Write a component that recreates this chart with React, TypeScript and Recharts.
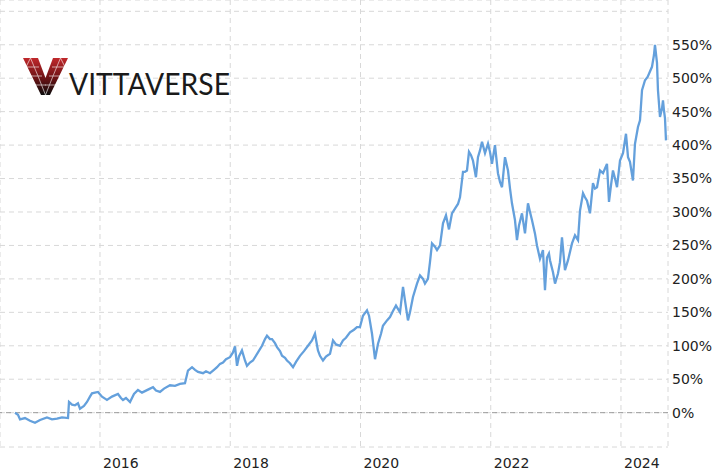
import React from 'react';
import {
  LineChart,
  Line,
  XAxis,
  YAxis,
  CartesianGrid,
  ReferenceLine,
} from 'recharts';

// time as decimal years, cumulative return in %
const years = [
  2014.695, 2014.741, 2014.772, 2014.848, 2014.925, 2015.002, 2015.079, 2015.186, 2015.263, 2015.34,
  2015.417, 2015.509, 2015.524, 2015.57, 2015.616, 2015.662, 2015.693, 2015.754, 2015.8, 2015.846,
  2015.877, 2015.923, 2015.969, 2016.031, 2016.077, 2016.107, 2016.184, 2016.276, 2016.322, 2016.353,
  2016.399, 2016.461, 2016.522, 2016.583, 2016.645, 2016.706, 2016.768, 2016.814, 2016.86, 2016.921,
  2016.983, 2017.075, 2017.152, 2017.228, 2017.305, 2017.351, 2017.413, 2017.459, 2017.505, 2017.582,
  2017.628, 2017.689, 2017.75, 2017.797, 2017.843, 2017.889, 2017.935, 2017.996, 2018.042, 2018.073,
  2018.104, 2018.134, 2018.18, 2018.226, 2018.257, 2018.303, 2018.349, 2018.426, 2018.488, 2018.534,
  2018.564, 2018.61, 2018.641, 2018.687, 2018.718, 2018.764, 2018.795, 2018.841, 2018.871, 2018.917,
  2018.964, 2019.01, 2019.071, 2019.132, 2019.194, 2019.255, 2019.301, 2019.347, 2019.378, 2019.424,
  2019.47, 2019.532, 2019.578, 2019.624, 2019.685, 2019.731, 2019.777, 2019.839, 2019.9, 2019.946,
  2019.992, 2020.038, 2020.1, 2020.131, 2020.177, 2020.223, 2020.269, 2020.315, 2020.345, 2020.407,
  2020.453, 2020.499, 2020.545, 2020.607, 2020.653, 2020.683, 2020.729, 2020.76, 2020.806, 2020.868,
  2020.914, 2020.96, 2020.99, 2021.036, 2021.067, 2021.098, 2021.144, 2021.175, 2021.221, 2021.267,
  2021.313, 2021.359, 2021.405, 2021.451, 2021.497, 2021.528, 2021.574, 2021.604, 2021.635, 2021.666,
  2021.697, 2021.727, 2021.773, 2021.804, 2021.835, 2021.866, 2021.912, 2021.958, 2021.988, 2022.019,
  2022.065, 2022.111, 2022.142, 2022.173, 2022.219, 2022.265, 2022.296, 2022.326, 2022.372, 2022.403,
  2022.434, 2022.48, 2022.526, 2022.572, 2022.603, 2022.633, 2022.679, 2022.71, 2022.756, 2022.802,
  2022.833, 2022.864, 2022.894, 2022.91, 2022.956, 2022.987, 2023.033, 2023.063, 2023.094, 2023.14,
  2023.187, 2023.248, 2023.294, 2023.34, 2023.371, 2023.417, 2023.447, 2023.478, 2023.524, 2023.57,
  2023.601, 2023.632, 2023.678, 2023.724, 2023.755, 2023.785, 2023.816, 2023.847, 2023.877, 2023.908,
  2023.939, 2023.985, 2024.031, 2024.077, 2024.108, 2024.138, 2024.184, 2024.215, 2024.261, 2024.292,
  2024.323, 2024.369, 2024.409, 2024.445, 2024.476, 2024.507, 2024.522, 2024.553, 2024.568, 2024.599,
  2024.63, 2024.645, 2024.66, 2024.676, 2024.691,
];

const returns = [
  0, -3, -10, -8, -12, -15, -11, -7, -10, -9,
  -7, -8, 16, 12, 11, 14, 6, 10, 16, 24,
  29, 30, 31, 24, 21, 19, 24, 28, 22, 19,
  22, 16, 28, 34, 30, 33, 36, 38, 33, 31,
  36, 41, 40, 43, 44, 63, 68, 64, 61, 59,
  62, 59, 64, 68, 73, 75, 80, 83, 90, 99,
  70, 84, 93, 78, 70, 75, 78, 90, 100, 110,
  115, 110, 110, 104, 98, 92, 85, 82, 78, 74,
  68, 76, 85, 92, 100, 108, 118, 93, 85, 78,
  84, 88, 108, 102, 100, 108, 112, 120, 124, 128,
  128, 145, 153, 145, 118, 80, 103, 118, 130, 138,
  143, 152, 160, 150, 188, 168, 138, 150, 173, 193,
  205, 200, 193, 200, 225, 253, 248, 243, 250, 283,
  295, 274, 298, 305, 312, 322, 360, 360, 362, 390,
  385, 377, 352, 382, 392, 405, 388, 402, 390, 372,
  400, 358, 345, 337, 382, 362, 335, 313, 288, 258,
  280, 298, 268, 313, 300, 288, 268, 250, 230, 243,
  183, 232, 238, 228, 210, 193, 208, 225, 262, 213,
  228, 253, 265, 258, 302, 328, 322, 317, 298, 343,
  335, 337, 362, 358, 365, 372, 315, 340, 362, 350,
  337, 377, 388, 417, 382, 375, 347, 402, 427, 437,
  482, 497, 502, 510, 517, 535, 550, 523, 482, 442,
  455, 467, 452, 440, 407,
];

const yearTicks = [2016, 2018, 2020, 2022, 2024];
const pctTicks = [0, 50, 100, 150, 200, 250, 300, 350, 400, 450, 500, 550, 600];

const data = years.map((t, i) => ({ t, v: returns[i] }));

const FONT = '"DejaVu Sans", Verdana, sans-serif';

const XTick = ({ x, y, payload }: any) => (
  <text x={x + 3} y={y + 21} fill="#222" fontSize={14} fontFamily={FONT} textAnchor="start">
    {payload.value}
  </text>
);

const YTick = ({ x, y, payload }: any) => {
  if (payload.value === 600) return <g />;
  return (
    <text x={x + 4} y={y} dy="0.35em" fill="#222" fontSize={14} fontFamily={FONT} textAnchor="start">
      {payload.value}%
    </text>
  );
};

function Logo() {
  return (
    <svg
      width={240}
      height={60}
      style={{ position: 'absolute', left: 0, top: 50 }}
    >
      <defs>
        <linearGradient id="vgrad" x1="0" y1="0" x2="0" y2="1">
          <stop offset="0%" stopColor="#c0282b" />
          <stop offset="55%" stopColor="#6a1214" />
          <stop offset="100%" stopColor="#0d0d0d" />
        </linearGradient>
      </defs>
      <polygon
        points="23,8 38,8 45.5,28 53,8 68,8 50,45 41,45"
        fill="url(#vgrad)"
      />
      <g stroke="#fff" strokeWidth={0.8} opacity={0.75}>
        <line x1={30.5} y1={8} x2={38} y2={26} />
        <line x1={30.5} y1={8} x2={26} y2={17} />
        <line x1={26} y1={17} x2={39} y2={17} />
        <line x1={30} y1={26} x2={42} y2={26} />
        <line x1={34} y1={35} x2={46} y2={35} />
        <line x1={60.5} y1={8} x2={53} y2={26} />
        <line x1={60.5} y1={8} x2={65} y2={17} />
        <line x1={52} y1={17} x2={65} y2={17} />
        <line x1={49} y1={26} x2={61} y2={26} />
        <line x1={45} y1={35} x2={57} y2={35} />
        <line x1={38} y1={26} x2={45.5} y2={45} />
        <line x1={53} y1={26} x2={45.5} y2={45} />
      </g>
      <text
        x={69}
        y={45}
        fontFamily="Lato, 'Open Sans', sans-serif"
        fontSize={30}
        fill="#1a1a1a"
        textLength={161}
        lengthAdjust="spacingAndGlyphs"
      >
        VITTAVERSE
      </text>
    </svg>
  );
}

export default function App() {
  return (
    <div style={{ position: 'absolute', left: 0, top: 0, width: 719, height: 474, background: '#fff' }}>
      <LineChart width={719} height={474} data={data} margin={{ top: 0, right: 0, bottom: 0, left: 0 }}>
        <CartesianGrid stroke="#d8d8d8" strokeDasharray="5 4" />
        <XAxis
          dataKey="t"
          type="number"
          domain={[2014.4645, 2024.722]}
          ticks={yearTicks}
          height={27}
          axisLine={false}
          tickLine={false}
          tickSize={0}
          tickMargin={0}
          tick={<XTick />}
          allowDataOverflow
        />
        <YAxis
          orientation="right"
          type="number"
          domain={[-51.3, 616.9]}
          ticks={pctTicks}
          width={51}
          axisLine={false}
          tickLine={false}
          tickSize={0}
          tickMargin={0}
          tick={<YTick />}
          allowDataOverflow
        />
        <ReferenceLine y={0} stroke="#9a9a9a" strokeDasharray="5 4" />
        <Line
          dataKey="v"
          type="linear"
          stroke="#64a0dc"
          strokeWidth={2.3}
          dot={false}
          activeDot={false}
          isAnimationActive={false}
        />
      </LineChart>
      <Logo />
    </div>
  );
}
